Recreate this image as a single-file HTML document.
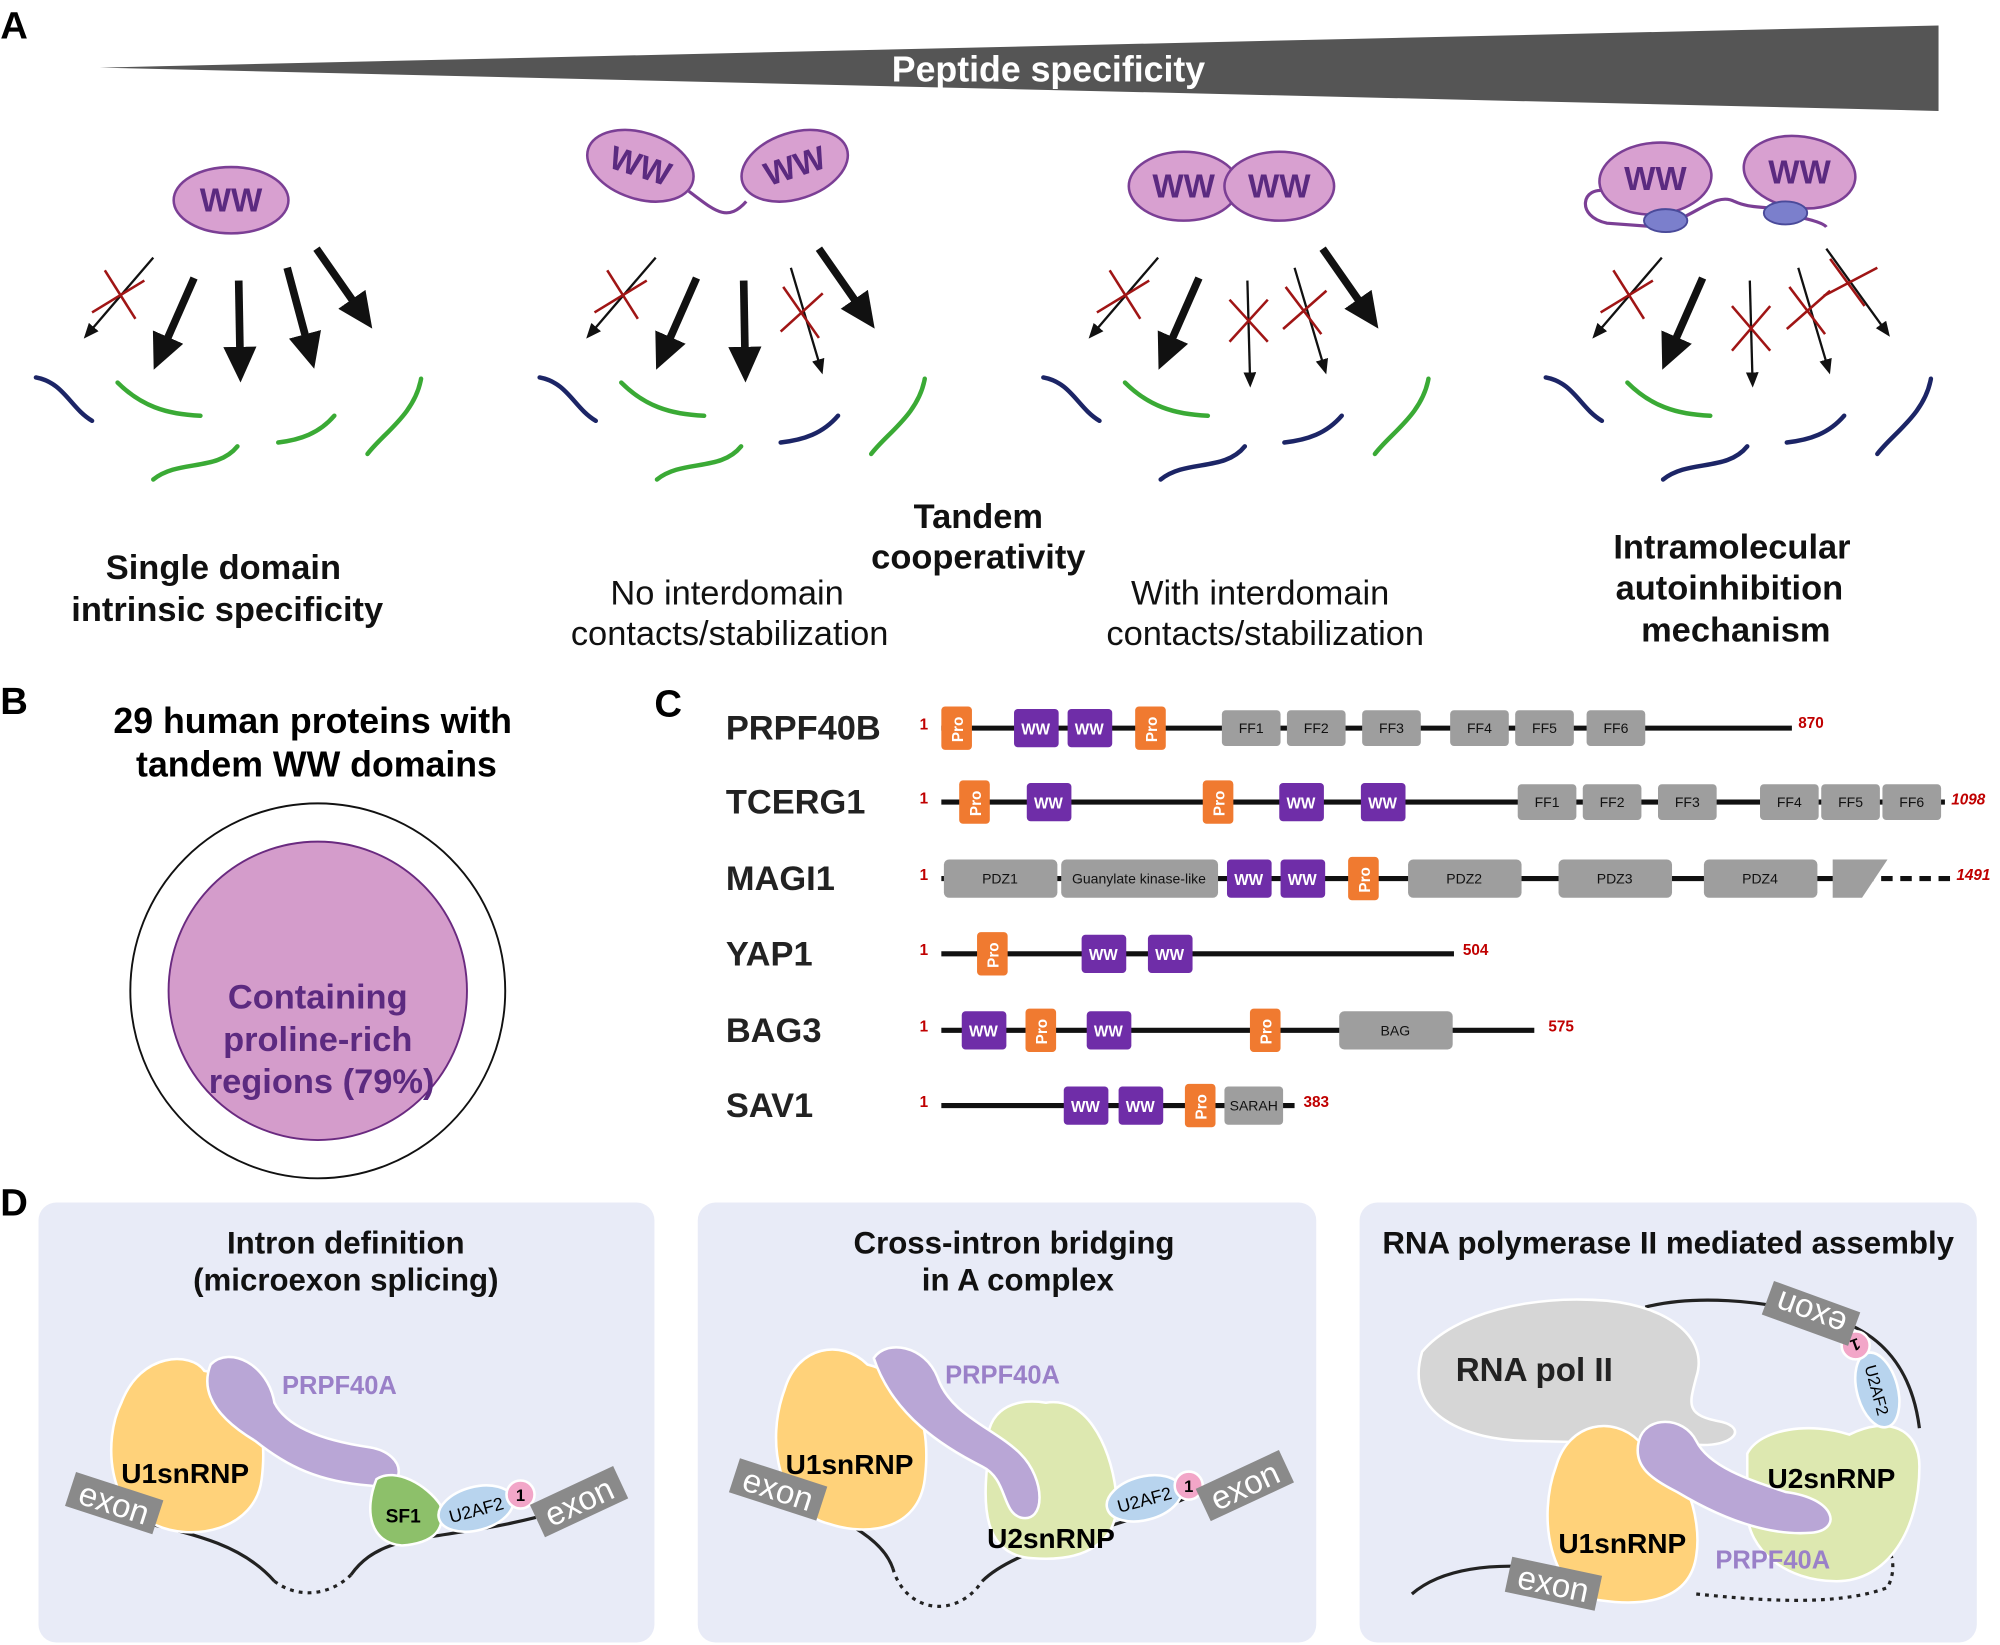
<!DOCTYPE html>
<html><head><meta charset="utf-8"><style>
html,body{margin:0;padding:0;background:#fff}
svg{display:block}
text{font-family:"Liberation Sans",Arial,sans-serif}
.b{font-weight:bold}
.ww{fill:#d8a0d0;stroke:#7b3f95;stroke-width:2}
.wwt{fill:#5b2a80;font-weight:bold;font-size:26px}
.thk{stroke:#111;stroke-width:6;marker-end:url(#ah)}
.thn{stroke:#111;stroke-width:1.8;marker-end:url(#ahs)}
.x{stroke:#a01515;stroke-width:2}
.nv{fill:none;stroke:#1c2566;stroke-width:3.5;stroke-linecap:round}
.gr{fill:none;stroke:#3aaa35;stroke-width:3.5;stroke-linecap:round}
.pro{fill:#f07a30}
.wd{fill:#6f2da8}
.ff{fill:#9e9e9e}
.wt{fill:#fff;font-size:12px;font-weight:bold}
.ft{fill:#111;font-size:11px}
.nm{font-size:27px;font-weight:bold;fill:#222}
.rn{fill:#c00000;font-size:12px;font-weight:bold}
.box{fill:#e8ebf7}
.ex{fill:#8a8a8a}
.ext{fill:#fff;font-size:26px}
</style></head><body>
<svg width="2000" height="1645" viewBox="0 0 1568 1290" xmlns="http://www.w3.org/2000/svg">
<defs>
<marker id="ah" markerUnits="userSpaceOnUse" markerWidth="30" markerHeight="30" refX="4" refY="13" orient="auto"><path d="M0,0 L28,13 L0,26 Z" fill="#111"/></marker>
<marker id="ahs" markerUnits="userSpaceOnUse" markerWidth="14" markerHeight="14" refX="2" refY="5" orient="auto"><path d="M0,0 L12,5 L0,10 Z" fill="#111"/></marker>
</defs>
<text x="0" y="30" class="b" font-size="30">A</text>
<polygon points="78,53 1520,20 1520,87" fill="#555"/>
<text x="822" y="64" text-anchor="middle" class="b" font-size="28" fill="#fff">Peptide specificity</text>

<!-- group 1 -->
<ellipse class="ww" cx="181" cy="157" rx="45" ry="26"/><text x="181" y="166" text-anchor="middle" class="wwt">WW</text>
<line class="thn" x1="120" y1="202" x2="72" y2="258"/>
<line class="x" x1="82" y1="212" x2="106" y2="250"/><line class="x" x1="72" y1="245" x2="113" y2="220"/>
<line class="thk" x1="152" y1="218" x2="130" y2="268"/>
<line class="thk" x1="187" y1="220" x2="188" y2="276"/>
<line class="thk" x1="225" y1="210" x2="240" y2="266"/>
<line class="thk" x1="248" y1="195" x2="278" y2="238"/>
<path class="nv" d="M28,296 C50,300 55,320 72,330"/>
<path class="gr" d="M92,300 C110,318 130,325 157,326"/>
<path class="gr" d="M120,376 C140,360 170,370 186,350"/>
<path class="gr" d="M218,347 C235,345 250,340 262,326"/>
<path class="gr" d="M288,356 C300,340 325,325 330,297"/>

<!-- group 2 -->
<ellipse class="ww" cx="502" cy="130" rx="43" ry="26" transform="rotate(18 502 130)"/><text x="502" y="139" text-anchor="middle" class="wwt" transform="rotate(18 502 130)">WW</text>
<ellipse class="ww" cx="623" cy="130" rx="43" ry="26" transform="rotate(-18 623 130)"/><text x="623" y="139" text-anchor="middle" class="wwt" transform="rotate(-18 623 130)">WW</text>
<path d="M540,150 C560,165 570,175 585,158" fill="none" stroke="#7b3f95" stroke-width="2.5"/>
<line class="thn" x1="514" y1="202" x2="466" y2="258"/>
<line class="x" x1="476" y1="212" x2="500" y2="250"/><line class="x" x1="466" y1="245" x2="507" y2="220"/>
<line class="thk" x1="546" y1="218" x2="524" y2="268"/>
<line class="thk" x1="583" y1="220" x2="584" y2="276"/>
<line class="thn" x1="620" y1="210" x2="642" y2="284"/>
<line class="x" x1="614" y1="225" x2="642" y2="265"/><line class="x" x1="612" y1="260" x2="645" y2="230"/>
<line class="thk" x1="642" y1="195" x2="672" y2="238"/>
<path class="nv" d="M423,296 C445,300 450,320 467,330"/>
<path class="gr" d="M487,300 C505,318 525,325 552,326"/>
<path class="gr" d="M515,376 C535,360 565,370 581,350"/>
<path class="nv" d="M612,347 C630,345 645,340 657,326"/>
<path class="gr" d="M683,356 C695,340 720,325 725,297"/>

<!-- group 3 -->
<ellipse class="ww" cx="928" cy="146" rx="43" ry="27"/><text x="928" y="155" text-anchor="middle" class="wwt">WW</text>
<ellipse class="ww" cx="1003" cy="146" rx="43" ry="27"/><text x="1003" y="155" text-anchor="middle" class="wwt">WW</text>
<line class="thn" x1="908" y1="202" x2="860" y2="258"/>
<line class="x" x1="870" y1="212" x2="894" y2="250"/><line class="x" x1="860" y1="245" x2="901" y2="220"/>
<line class="thk" x1="940" y1="218" x2="918" y2="268"/>
<line class="thn" x1="978" y1="220" x2="980" y2="294"/>
<line class="x" x1="964" y1="235" x2="994" y2="268"/><line class="x" x1="964" y1="268" x2="994" y2="235"/>
<line class="thn" x1="1015" y1="210" x2="1037" y2="284"/>
<line class="x" x1="1008" y1="225" x2="1036" y2="262"/><line class="x" x1="1006" y1="258" x2="1040" y2="228"/>
<line class="thk" x1="1037" y1="195" x2="1067" y2="238"/>
<path class="nv" d="M818,296 C840,300 845,320 862,330"/>
<path class="gr" d="M882,300 C900,318 920,325 947,326"/>
<path class="nv" d="M910,376 C930,360 960,370 976,350"/>
<path class="nv" d="M1007,347 C1025,345 1040,340 1052,326"/>
<path class="gr" d="M1078,356 C1090,340 1115,325 1120,297"/>

<!-- group 4 -->
<path d="M1260,150 C1240,145 1235,170 1260,175 L1300,178 C1330,170 1345,150 1360,158 C1375,165 1390,160 1400,168 C1420,172 1430,175 1432,178" fill="none" stroke="#7b3f95" stroke-width="2.5"/>
<ellipse class="ww" cx="1298" cy="140" rx="44" ry="28" transform="rotate(-5 1298 140)"/><text x="1298" y="149" text-anchor="middle" class="wwt">WW</text>
<ellipse class="ww" cx="1411" cy="135" rx="44" ry="28" transform="rotate(8 1411 135)"/><text x="1411" y="144" text-anchor="middle" class="wwt">WW</text>
<ellipse cx="1306" cy="173" rx="17" ry="9" fill="#7b7fcc" stroke="#4a4a9a" stroke-width="1.5"/>
<ellipse cx="1400" cy="167" rx="17" ry="9" fill="#7b7fcc" stroke="#4a4a9a" stroke-width="1.5"/>
<line class="thn" x1="1303" y1="202" x2="1255" y2="258"/>
<line class="x" x1="1265" y1="212" x2="1289" y2="250"/><line class="x" x1="1255" y1="245" x2="1296" y2="220"/>
<line class="thk" x1="1335" y1="218" x2="1313" y2="268"/>
<line class="thn" x1="1372" y1="220" x2="1374" y2="294"/>
<line class="x" x1="1358" y1="240" x2="1388" y2="275"/><line class="x" x1="1358" y1="275" x2="1388" y2="240"/>
<line class="thn" x1="1410" y1="210" x2="1432" y2="284"/>
<line class="x" x1="1403" y1="225" x2="1431" y2="262"/><line class="x" x1="1401" y1="258" x2="1435" y2="228"/>
<line class="thn" x1="1432" y1="195" x2="1476" y2="256"/>
<line class="x" x1="1435" y1="203" x2="1462" y2="240"/><line class="x" x1="1430" y1="232" x2="1472" y2="210"/>
<path class="nv" d="M1212,296 C1234,300 1239,320 1256,330"/>
<path class="gr" d="M1276,300 C1294,318 1314,325 1341,326"/>
<path class="nv" d="M1304,376 C1324,360 1354,370 1370,350"/>
<path class="nv" d="M1401,347 C1419,345 1434,340 1446,326"/>
<path class="nv" d="M1472,356 C1484,340 1509,325 1514,297"/>

<g font-size="27" text-anchor="middle" fill="#111">
<text x="175" y="454" class="b">Single domain</text><text x="178" y="487" class="b">intrinsic specificity</text>
<text x="767" y="414" class="b">Tandem</text><text x="767" y="446" class="b">cooperativity</text>
<text x="570" y="474">No interdomain</text><text x="572" y="506">contacts/stabilization</text>
<text x="988" y="474">With interdomain</text><text x="992" y="506">contacts/stabilization</text>
<text x="1358" y="438" class="b">Intramolecular</text><text x="1356" y="470" class="b">autoinhibition</text><text x="1361" y="503" class="b">mechanism</text>
</g>

<!-- B -->
<text x="0" y="560" class="b" font-size="30">B</text>
<text x="245" y="575" text-anchor="middle" class="b" font-size="28">29 human proteins with</text>
<text x="248" y="609" text-anchor="middle" class="b" font-size="28">tandem WW domains</text>
<circle cx="249" cy="777" r="147" fill="#fff" stroke="#111" stroke-width="1.5"/>
<circle cx="249" cy="777" r="117" fill="#d49ccb" stroke="#6a2a80" stroke-width="1.5"/>
<g text-anchor="middle" class="b" font-size="27" fill="#5c2a80">
<text x="249" y="791">Containing</text><text x="249" y="824">proline-rich</text><text x="252" y="857">regions (79%)</text></g>

<!-- C -->
<text x="513" y="562" class="b" font-size="30">C</text>
<g class="nm"><text x="569" y="580" class="nm">PRPF40B</text><text x="569" y="638" class="nm">TCERG1</text><text x="569" y="698" class="nm">MAGI1</text><text x="569" y="757" class="nm">YAP1</text><text x="569" y="817" class="nm">BAG3</text><text x="569" y="876" class="nm">SAV1</text></g>
<g class="rn"><text x="721" y="572">1</text><text x="721" y="630">1</text><text x="721" y="690">1</text><text x="721" y="749">1</text><text x="721" y="809">1</text><text x="721" y="868">1</text></g>
<g stroke="#111" stroke-width="4">
<line x1="738" y1="571" x2="1405" y2="571"/><line x1="738" y1="629" x2="1525" y2="629"/>
<line x1="738" y1="689" x2="1440" y2="689"/><line x1="1460" y1="689" x2="1530" y2="689" stroke-dasharray="9,6"/>
<line x1="738" y1="748" x2="1140" y2="748"/><line x1="738" y1="808" x2="1203" y2="808"/><line x1="738" y1="867" x2="1015" y2="867"/></g>
<!-- PRPF40B -->
<rect class="pro" x="738" y="554" width="24" height="34" rx="3"/><text class="wt" transform="translate(755 582) rotate(-90)">Pro</text>
<rect class="wd" x="795" y="556" width="35" height="30" rx="3"/><text class="wt" x="812" y="576" text-anchor="middle">WW</text>
<rect class="wd" x="837" y="556" width="35" height="30" rx="3"/><text class="wt" x="854" y="576" text-anchor="middle">WW</text>
<rect class="pro" x="890" y="554" width="24" height="34" rx="3"/><text class="wt" transform="translate(907 582) rotate(-90)">Pro</text>
<g text-anchor="middle">
<rect class="ff" x="958" y="557" width="46" height="28" rx="3"/><text class="ft" x="981" y="575">FF1</text>
<rect class="ff" x="1009" y="557" width="46" height="28" rx="3"/><text class="ft" x="1032" y="575">FF2</text>
<rect class="ff" x="1068" y="557" width="46" height="28" rx="3"/><text class="ft" x="1091" y="575">FF3</text>
<rect class="ff" x="1137" y="557" width="46" height="28" rx="3"/><text class="ft" x="1160" y="575">FF4</text>
<rect class="ff" x="1188" y="557" width="46" height="28" rx="3"/><text class="ft" x="1211" y="575">FF5</text>
<rect class="ff" x="1244" y="557" width="46" height="28" rx="3"/><text class="ft" x="1267" y="575">FF6</text>
</g>
<text class="rn" x="1410" y="571">870</text>
<!-- TCERG1 -->
<rect class="pro" x="752" y="612" width="24" height="34" rx="3"/><text class="wt" transform="translate(769 640) rotate(-90)">Pro</text>
<rect class="wd" x="805" y="614" width="35" height="30" rx="3"/><text class="wt" x="822" y="634" text-anchor="middle">WW</text>
<rect class="pro" x="943" y="612" width="24" height="34" rx="3"/><text class="wt" transform="translate(960 640) rotate(-90)">Pro</text>
<rect class="wd" x="1003" y="614" width="35" height="30" rx="3"/><text class="wt" x="1020" y="634" text-anchor="middle">WW</text>
<rect class="wd" x="1067" y="614" width="35" height="30" rx="3"/><text class="wt" x="1084" y="634" text-anchor="middle">WW</text>
<g text-anchor="middle">
<rect class="ff" x="1190" y="615" width="46" height="28" rx="3"/><text class="ft" x="1213" y="633">FF1</text>
<rect class="ff" x="1241" y="615" width="46" height="28" rx="3"/><text class="ft" x="1264" y="633">FF2</text>
<rect class="ff" x="1300" y="615" width="46" height="28" rx="3"/><text class="ft" x="1323" y="633">FF3</text>
<rect class="ff" x="1380" y="615" width="46" height="28" rx="3"/><text class="ft" x="1403" y="633">FF4</text>
<rect class="ff" x="1428" y="615" width="46" height="28" rx="3"/><text class="ft" x="1451" y="633">FF5</text>
<rect class="ff" x="1476" y="615" width="46" height="28" rx="3"/><text class="ft" x="1499" y="633">FF6</text>
</g>
<text class="rn" x="1530" y="631" font-style="italic" font-size="13">1098</text>
<!-- MAGI1 -->
<g text-anchor="middle">
<rect class="ff" x="740" y="674" width="89" height="30" rx="4"/><text class="ft" x="784" y="693">PDZ1</text>
<rect class="ff" x="832" y="674" width="123" height="30" rx="4"/><text class="ft" x="893" y="693" font-size="10.5">Guanylate kinase-like</text>
<rect class="wd" x="962" y="674" width="35" height="30" rx="3"/><text class="wt" x="979" y="694">WW</text>
<rect class="wd" x="1004" y="674" width="35" height="30" rx="3"/><text class="wt" x="1021" y="694">WW</text>
<rect class="ff" x="1104" y="674" width="89" height="30" rx="4"/><text class="ft" x="1148" y="693">PDZ2</text>
<rect class="ff" x="1222" y="674" width="89" height="30" rx="4"/><text class="ft" x="1266" y="693">PDZ3</text>
<rect class="ff" x="1336" y="674" width="89" height="30" rx="4"/><text class="ft" x="1380" y="693">PDZ4</text>
</g>
<polygon class="ff" points="1437,674 1480,674 1460,704 1437,704"/>
<rect class="pro" x="1057" y="672" width="24" height="34" rx="3"/><text class="wt" transform="translate(1074 700) rotate(-90)">Pro</text>
<text class="rn" x="1534" y="690" font-style="italic" font-size="13">1491</text>
<!-- YAP1 -->
<rect class="pro" x="766" y="731" width="24" height="34" rx="3"/><text class="wt" transform="translate(783 759) rotate(-90)">Pro</text>
<rect class="wd" x="848" y="733" width="35" height="30" rx="3"/><text class="wt" x="865" y="753" text-anchor="middle">WW</text>
<rect class="wd" x="900" y="733" width="35" height="30" rx="3"/><text class="wt" x="917" y="753" text-anchor="middle">WW</text>
<text class="rn" x="1147" y="749">504</text>
<!-- BAG3 -->
<rect class="wd" x="754" y="793" width="35" height="30" rx="3"/><text class="wt" x="771" y="813" text-anchor="middle">WW</text>
<rect class="pro" x="804" y="791" width="24" height="34" rx="3"/><text class="wt" transform="translate(821 819) rotate(-90)">Pro</text>
<rect class="wd" x="852" y="793" width="35" height="30" rx="3"/><text class="wt" x="869" y="813" text-anchor="middle">WW</text>
<rect class="pro" x="980" y="791" width="24" height="34" rx="3"/><text class="wt" transform="translate(997 819) rotate(-90)">Pro</text>
<rect class="ff" x="1050" y="793" width="89" height="30" rx="4"/><text class="ft" x="1094" y="812" text-anchor="middle">BAG</text>
<text class="rn" x="1214" y="809">575</text>
<!-- SAV1 -->
<rect class="wd" x="834" y="852" width="35" height="30" rx="3"/><text class="wt" x="851" y="872" text-anchor="middle">WW</text>
<rect class="wd" x="877" y="852" width="35" height="30" rx="3"/><text class="wt" x="894" y="872" text-anchor="middle">WW</text>
<rect class="pro" x="929" y="850" width="24" height="34" rx="3"/><text class="wt" transform="translate(946 878) rotate(-90)">Pro</text>
<rect class="ff" x="960" y="852" width="46" height="30" rx="3"/><text class="ft" x="983" y="871" text-anchor="middle">SARAH</text>
<text class="rn" x="1022" y="868">383</text>

<!-- D -->
<text x="0" y="953" class="b" font-size="30">D</text>
<rect class="box" x="30" y="943" width="483" height="345" rx="14"/>
<rect class="box" x="547" y="943" width="485" height="345" rx="14"/>
<rect class="box" x="1066" y="943" width="484" height="345" rx="14"/>
<g class="b" font-size="24.5" text-anchor="middle" fill="#111">
<text x="271" y="983">Intron definition</text><text x="271" y="1012">(microexon splicing)</text>
<text x="795" y="983">Cross-intron bridging</text><text x="798" y="1012">in A complex</text>
<text x="1308" y="983">RNA polymerase II mediated assembly</text></g>

<!-- D1 -->
<path d="M60,1180 C120,1200 180,1200 215,1240" fill="none" stroke="#222" stroke-width="2.5"/>
<path d="M215,1240 C235,1255 260,1250 275,1235" fill="none" stroke="#222" stroke-width="2.5" stroke-dasharray="3,4"/>
<path d="M275,1235 C300,1200 340,1210 420,1190" fill="none" stroke="#222" stroke-width="2.5"/>
<path d="M95,1100 C110,1060 150,1060 160,1075 C200,1080 210,1120 205,1160 C200,1200 150,1210 120,1195 C85,1185 80,1130 95,1100Z" fill="#ffd27a" stroke="#fff" stroke-width="2"/>
<path d="M165,1070 C180,1055 210,1070 215,1100 C225,1120 255,1130 290,1135 C320,1140 320,1170 290,1165 C250,1162 225,1150 200,1130 C175,1115 155,1095 165,1070Z" fill="#b9a6d6" stroke="#fff" stroke-width="2"/>
<path d="M295,1160 C310,1150 335,1165 345,1180 C350,1200 340,1210 315,1212 C290,1210 285,1185 295,1160Z" fill="#8dc06a" stroke="#fff" stroke-width="2"/>
<text x="316" y="1194" text-anchor="middle" class="b" font-size="15">SF1</text>
<ellipse cx="373" cy="1183" rx="30" ry="17" fill="#b8d4ee" stroke="#fff" stroke-width="2" transform="rotate(-15 373 1183)"/>
<text x="373" y="1189" text-anchor="middle" font-size="14" transform="rotate(-15 373 1183)">U2AF2</text>
<circle cx="408" cy="1172" r="11" fill="#f2a6c8" stroke="#fff" stroke-width="2"/><text x="408" y="1177" text-anchor="middle" class="b" font-size="13">1</text>
<text x="145" y="1163" text-anchor="middle" class="b" font-size="22">U1snRNP</text>
<text x="266" y="1093" text-anchor="middle" class="b" font-size="20" fill="#9a80c8">PRPF40A</text>
<g transform="rotate(18 90 1180)"><rect class="ex" x="53" y="1165" width="72" height="28"/><text class="ext" x="89" y="1188" text-anchor="middle">exon</text></g>
<g transform="rotate(-25 453 1178)"><rect class="ex" x="418" y="1164" width="72" height="28"/><text class="ext" x="454" y="1187" text-anchor="middle">exon</text></g>

<!-- D2 -->
<path d="M580,1165 C640,1180 690,1200 700,1230" fill="none" stroke="#222" stroke-width="2.5"/>
<path d="M700,1230 C710,1265 750,1270 770,1240" fill="none" stroke="#222" stroke-width="2.5" stroke-dasharray="3,4"/>
<path d="M770,1240 C800,1210 880,1200 940,1170" fill="none" stroke="#222" stroke-width="2.5"/>
<path d="M775,1140 C770,1110 790,1095 820,1100 C850,1095 870,1130 875,1170 C880,1210 850,1225 810,1222 C770,1220 770,1180 775,1140Z" fill="#dde8b0" stroke="#fff" stroke-width="2"/>
<path d="M615,1090 C625,1055 660,1050 680,1070 C720,1080 730,1120 725,1160 C720,1200 680,1205 650,1195 C610,1185 600,1130 615,1090Z" fill="#ffd27a" stroke="#fff" stroke-width="2"/>
<path d="M685,1065 C695,1050 725,1055 735,1080 C745,1110 780,1120 800,1140 C820,1160 820,1195 800,1190 C785,1185 790,1160 770,1150 C740,1135 700,1110 685,1065Z" fill="#b9a6d6" stroke="#fff" stroke-width="2"/>
<ellipse cx="897" cy="1175" rx="30" ry="17" fill="#b8d4ee" stroke="#fff" stroke-width="2" transform="rotate(-15 897 1175)"/>
<text x="897" y="1181" text-anchor="middle" font-size="14" transform="rotate(-15 897 1175)">U2AF2</text>
<circle cx="932" cy="1165" r="11" fill="#f2a6c8" stroke="#fff" stroke-width="2"/><text x="932" y="1170" text-anchor="middle" class="b" font-size="13">1</text>
<text x="666" y="1156" text-anchor="middle" class="b" font-size="22">U1snRNP</text>
<text x="786" y="1085" text-anchor="middle" class="b" font-size="20" fill="#9a80c8">PRPF40A</text>
<text x="824" y="1214" text-anchor="middle" class="b" font-size="22">U2snRNP</text>
<g transform="rotate(18 610 1168)"><rect class="ex" x="574" y="1154" width="72" height="28"/><text class="ext" x="610" y="1177" text-anchor="middle">exon</text></g>
<g transform="rotate(-25 976 1165)"><rect class="ex" x="940" y="1151" width="72" height="28"/><text class="ext" x="976" y="1174" text-anchor="middle">exon</text></g>

<!-- D3 -->
<path d="M1290,1025 C1330,1015 1380,1020 1420,1030 C1480,1040 1500,1080 1505,1120" fill="none" stroke="#222" stroke-width="2.5"/>
<path d="M1107,1250 C1130,1230 1170,1225 1215,1230" fill="none" stroke="#222" stroke-width="2.5"/>
<path d="M1330,1250 C1380,1255 1440,1260 1480,1245 C1490,1225 1480,1210 1470,1200" fill="none" stroke="#222" stroke-width="2.5" stroke-dasharray="3,4"/>
<path d="M1115,1060 C1140,1030 1200,1015 1260,1020 C1310,1025 1340,1050 1330,1080 C1325,1100 1320,1110 1350,1115 C1370,1120 1360,1135 1330,1133 L1200,1130 C1150,1130 1100,1110 1115,1060Z" fill="#d6d6d6" stroke="#fff" stroke-width="2"/>
<text x="1203" y="1083" text-anchor="middle" class="b" font-size="26" fill="#222">RNA pol II</text>
<path d="M1370,1140 C1380,1120 1420,1115 1450,1125 C1480,1110 1505,1120 1505,1150 C1505,1200 1480,1240 1440,1240 C1400,1240 1370,1215 1370,1185Z" fill="#dde8b0" stroke="#fff" stroke-width="2"/>
<path d="M1220,1150 C1230,1115 1265,1110 1285,1130 C1320,1140 1335,1190 1330,1220 C1325,1255 1290,1260 1255,1255 C1215,1250 1205,1190 1220,1150Z" fill="#ffd27a" stroke="#fff" stroke-width="2"/>
<path d="M1285,1130 C1290,1110 1320,1110 1330,1130 C1340,1150 1370,1160 1400,1170 C1440,1175 1445,1200 1420,1202 C1380,1205 1340,1185 1315,1170 C1295,1160 1280,1150 1285,1130Z" fill="#b9a6d6" stroke="#fff" stroke-width="2"/>
<text x="1272" y="1218" text-anchor="middle" class="b" font-size="22">U1snRNP</text>
<text x="1436" y="1167" text-anchor="middle" class="b" font-size="22">U2snRNP</text>
<text x="1390" y="1230" text-anchor="middle" class="b" font-size="20" fill="#9a80c8">PRPF40A</text>
<ellipse cx="1472" cy="1090" rx="30" ry="16" fill="#b8d4ee" stroke="#fff" stroke-width="2" transform="rotate(75 1472 1090)"/>
<text x="1472" y="1095" text-anchor="middle" font-size="13" transform="rotate(75 1472 1090)">U2AF2</text>
<circle cx="1455" cy="1055" r="11" fill="#f2a6c8" stroke="#fff" stroke-width="2"/><text x="1455" y="1060" text-anchor="middle" class="b" font-size="13" transform="rotate(160 1455 1055)">1</text>
<g transform="rotate(200 1420 1030)"><rect class="ex" x="1384" y="1016" width="72" height="28"/><text class="ext" x="1420" y="1039" text-anchor="middle">exon</text></g>
<g transform="rotate(12 1218 1242)"><rect class="ex" x="1182" y="1228" width="72" height="28"/><text class="ext" x="1218" y="1251" text-anchor="middle">exon</text></g>
</svg>
</body></html>
